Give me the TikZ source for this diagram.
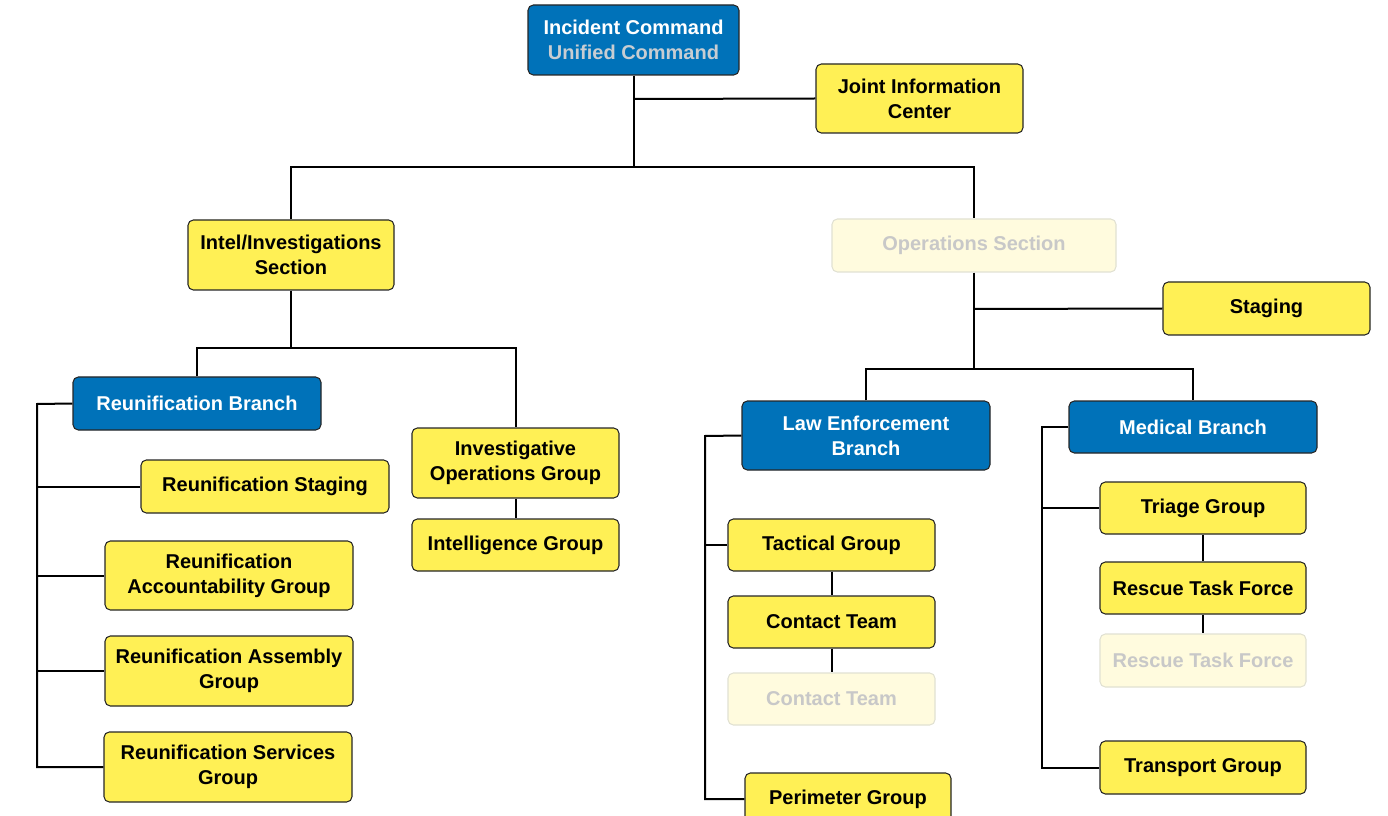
\documentclass[tikz,border=0pt]{standalone}
\usepackage{fontspec}
\setmainfont{Liberation Sans}
\definecolor{icsblue}{RGB}{0,114,185}
\definecolor{icsyellow}{RGB}{255,240,85}
\definecolor{fadefill}{RGB}{255,251,222}
\definecolor{fadedraw}{RGB}{225,225,210}
\definecolor{fadetext}{RGB}{200,200,200}
\definecolor{subtext}{RGB}{200,205,210}
\begin{document}
\begin{tikzpicture}[x=0.75pt,y=-0.75pt,
  box/.style={draw=black!85,line width=0.8pt,rounded corners=4pt,align=center,
    font=\fontsize{15}{18.75}\selectfont\bfseries,inner sep=0pt},
  ybox/.style={box,fill=icsyellow,text=black},
  bbox/.style={box,fill=icsblue,text=white},
  fbox/.style={box,fill=fadefill,draw=fadedraw,text=fadetext},
  sz/.style 2 args={minimum width={#1*0.75pt},minimum height={#2*0.75pt}},
  link/.style={line width=1.5pt,black}]
\useasboundingbox (0,0) rectangle (1388,816);

% nodes
\node[bbox,sz={211}{70}] (ic) at (633.5,40) {Incident Command\\\textcolor{subtext}{Unified Command}};
\node[ybox,sz={207}{69}] (jic) at (919.5,98.5) {Joint Information\\Center};
\node[ybox,sz={206}{70}] (intel) at (291,255) {Intel/Investigations\\Section};
\node[fbox,sz={284}{53}] (ops) at (974,245.5) {Operations Section};
\node[ybox,sz={207}{53}] (stg) at (1266.5,308.5) {Staging};

\node[bbox,sz={248}{53}] (rb) at (197,403.5) {Reunification Branch};
\node[ybox,sz={248}{53}] (rs) at (265,486.5) {Reunification Staging};
\node[ybox,sz={248}{69}] (rag) at (229,575.5) {Reunification\\Accountability Group};
\node[ybox,sz={248}{70}] (rasm) at (229,671) {Reunification Assembly\\Group};
\node[ybox,sz={248}{70}] (rsg) at (228,767) {Reunification Services\\Group};

\node[ybox,sz={207}{70}] (iog) at (515.5,463) {Investigative\\Operations Group};
\node[ybox,sz={207}{52}] (ig) at (515.5,545) {Intelligence Group};

\node[bbox,sz={248}{69}] (le) at (866,435.5) {Law Enforcement\\Branch};
\node[bbox,sz={248}{52}] (med) at (1193,427) {Medical Branch};

\node[ybox,sz={207}{52}] (tac) at (831.5,545) {Tactical Group};
\node[ybox,sz={207}{52}] (ct) at (831.5,622) {Contact Team};
\node[fbox,sz={207}{52}] (ctf) at (831.5,699) {Contact Team};
\node[ybox,sz={206}{52}] (per) at (848,799) {Perimeter Group};

\node[ybox,sz={206}{52}] (tri) at (1203,508) {Triage Group};
\node[ybox,sz={206}{52}] (rtf) at (1203,588) {Rescue Task Force};
\node[fbox,sz={206}{53}] (rtff) at (1203,660.5) {Rescue Task Force};
\node[ybox,sz={206}{53}] (trn) at (1203,767.5) {Transport Group};

% junction coordinates
\coordinate (j1) at (633.5,99);
\coordinate (j2) at (633.5,167);
\coordinate (j3) at (974,309);
\coordinate (j4) at (974,369);
\coordinate (j5) at (291,348);
\coordinate (rbL) at (37,404);
\coordinate (leL) at (705,436);
\coordinate (medL) at (1042,427);

\begin{scope}[on background layer/.try]
\end{scope}
% connectors
\draw[link] (ic.south) -- (j2);
\draw[link] (j1) -- (jic.west);
\draw[link] (intel.north) |- (j2) -| (ops.north);
\draw[link] (ops.south) -- (j4);
\draw[link] (j3) -- (stg.west);
\draw[link] (le.north) |- (j4) -| (med.north);
\draw[link] (intel.south) -- (j5);
\draw[link] (rb.north) |- (j5) -| (iog.north);
\draw[link] (iog.south) -- (ig.north);

\draw[link] (rb.west) -- (rbL) |- (rsg.west);
\draw[link] (rbL) |- (rs.west);
\draw[link] (rbL) |- (rag.west);
\draw[link] (rbL) |- (rasm.west);

\draw[link] (le.west) -- (leL) |- (per.west);
\draw[link] (leL) |- (tac.west);
\draw[link] (tac.south) -- (ct.north);
\draw[link] (ct.south) -- (ctf.north);

\draw[link] (med.west) -- (medL) |- (trn.west);
\draw[link] (medL) |- (tri.west);
\draw[link] (tri.south) -- (rtf.north);
\draw[link] (rtf.south) -- (rtff.north);
\end{tikzpicture}
\end{document}
